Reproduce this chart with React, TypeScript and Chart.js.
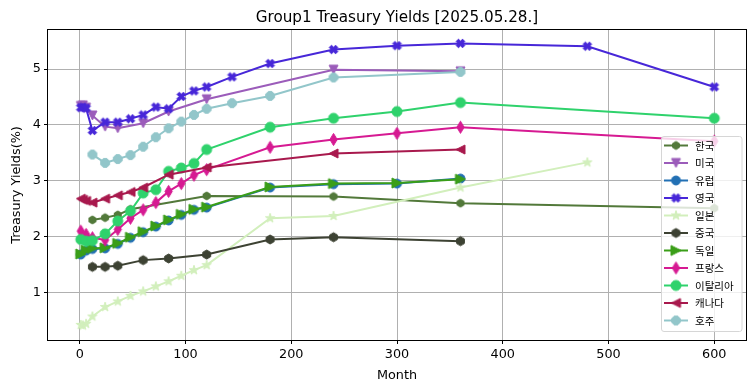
import React, { useEffect, useRef } from 'react';
import { Chart, registerables } from 'chart.js';

Chart.register(...registerables);

const chartTitle = 'Group1 Treasury Yields [2025.05.28.]';
const xTitle = 'Month';
const yTitle = 'Treasury Yields(%)';

const monthTicks = [0, 100, 200, 300, 400, 500, 600];
const yieldTicks = [1, 2, 3, 4, 5];

const koreaMonths = [12, 24, 36, 48, 120, 240, 360, 600];
const koreaYields = [2.30, 2.34, 2.39, 2.49, 2.73, 2.72, 2.60, 2.51];

const usMonths = [1, 3, 6, 12, 24, 36, 60, 84, 120, 240, 360];
const usYields = [4.34, 4.35, 4.31, 4.17, 3.97, 3.94, 4.03, 4.24, 4.46, 4.99, 4.96];

const europeMonths = [1, 6, 12, 24, 36, 48, 60, 72, 84, 96, 108, 120, 180, 240, 300, 360];
const europeYields = [1.68, 1.75, 1.78, 1.79, 1.87, 1.98, 2.08, 2.18, 2.29, 2.39, 2.48, 2.52, 2.88, 2.94, 2.95, 3.04];

const ukMonths = [1, 3, 6, 12, 24, 36, 48, 60, 72, 84, 96, 108, 120, 144, 180, 240, 300, 360, 480, 600];
const ukYields = [4.31, 4.32, 4.30, 3.90, 4.05, 4.05, 4.11, 4.18, 4.32, 4.29, 4.51, 4.61, 4.68, 4.86, 5.10, 5.35, 5.42, 5.46, 5.41, 4.68];

const japanMonths = [1, 3, 6, 12, 24, 36, 48, 60, 72, 84, 96, 108, 120, 180, 240, 360, 480];
const japanYields = [0.42, 0.41, 0.44, 0.57, 0.74, 0.84, 0.94, 1.02, 1.11, 1.20, 1.30, 1.40, 1.49, 2.33, 2.37, 2.88, 3.33];

const chinaMonths = [12, 24, 36, 60, 84, 120, 180, 240, 360];
const chinaYields = [1.46, 1.46, 1.48, 1.58, 1.61, 1.68, 1.95, 1.99, 1.92];

const germanyMonths = [1, 6, 12, 24, 36, 48, 60, 72, 84, 96, 108, 120, 180, 240, 300, 360];
const germanyYields = [1.69, 1.76, 1.79, 1.80, 1.88, 1.99, 2.09, 2.19, 2.30, 2.40, 2.49, 2.53, 2.89, 2.95, 2.96, 3.03];

const franceMonths = [1, 6, 12, 24, 36, 48, 60, 72, 84, 96, 108, 120, 180, 240, 300, 360, 600];
const franceYields = [2.10, 2.04, 1.98, 1.94, 2.13, 2.33, 2.48, 2.61, 2.81, 2.95, 3.10, 3.20, 3.60, 3.74, 3.85, 3.96, 3.71];

const italyMonths = [1, 6, 12, 24, 36, 48, 60, 72, 84, 96, 108, 120, 180, 240, 300, 360, 600];
const italyYields = [1.95, 1.92, 1.93, 2.05, 2.28, 2.46, 2.78, 2.84, 3.17, 3.23, 3.31, 3.56, 3.96, 4.12, 4.24, 4.40, 4.12];

const canadaMonths = [1, 3, 6, 12, 24, 36, 48, 60, 84, 120, 240, 360];
const canadaYields = [2.68, 2.66, 2.64, 2.61, 2.68, 2.74, 2.80, 2.88, 3.11, 3.24, 3.49, 3.56];

const australiaMonths = [12, 24, 36, 48, 60, 72, 84, 96, 108, 120, 144, 180, 240, 360];
const australiaYields = [3.47, 3.32, 3.39, 3.46, 3.61, 3.78, 3.94, 4.06, 4.18, 4.29, 4.39, 4.52, 4.85, 4.95];

type Shape = 'circle' | 'hexagon' | 'octagon' | 'triDown' | 'triRight' | 'triLeft' | 'thinDiamond' | 'xFilled' | 'star';

interface SeriesDef {
  label: string;
  months: number[];
  yields: number[];
  color: string;
  shape: Shape;
  size: number;
}

const series: SeriesDef[] = [
  { label: '한국', months: koreaMonths, yields: koreaYields, color: '#52793a', shape: 'hexagon', size: 8 },
  { label: '미국', months: usMonths, yields: usYields, color: '#9b5cba', shape: 'triDown', size: 9 },
  { label: '유럽', months: europeMonths, yields: europeYields, color: '#2270b4', shape: 'circle', size: 9 },
  { label: '영국', months: ukMonths, yields: ukYields, color: '#4727d8', shape: 'xFilled', size: 9 },
  { label: '일본', months: japanMonths, yields: japanYields, color: '#d2efbc', shape: 'star', size: 10 },
  { label: '중국', months: chinaMonths, yields: chinaYields, color: '#3d4233', shape: 'hexagon', size: 9 },
  { label: '독일', months: germanyMonths, yields: germanyYields, color: '#3a9e18', shape: 'triRight', size: 10 },
  { label: '프랑스', months: franceMonths, yields: franceYields, color: '#d61a92', shape: 'thinDiamond', size: 9 },
  { label: '이탈리아', months: italyMonths, yields: italyYields, color: '#2fd26c', shape: 'circle', size: 10 },
  { label: '캐나다', months: canadaMonths, yields: canadaYields, color: '#a8194d', shape: 'triLeft', size: 9 },
  { label: '호주', months: australiaMonths, yields: australiaYields, color: '#92c6ca', shape: 'octagon', size: 9.5 },
];

function makeMarker(shape: Shape, color: string, size: number): HTMLCanvasElement {
  const r = size / 2;
  const ext = shape === 'thinDiamond' ? r * 1.42 : r;
  const dim = Math.ceil(ext * 2) + 4;
  const c = document.createElement('canvas');
  c.width = dim;
  c.height = dim;
  const ctx = c.getContext('2d')!;
  const cx = dim / 2;
  const cy = dim / 2;
  ctx.fillStyle = color;
  ctx.strokeStyle = color;
  ctx.lineWidth = 1;
  ctx.lineJoin = 'miter';
  ctx.beginPath();
  const poly = (pts: number[][]) => {
    pts.forEach(([x, y], i) => (i ? ctx.lineTo(cx + x, cy + y) : ctx.moveTo(cx + x, cy + y)));
    ctx.closePath();
  };
  const regular = (n: number, start: number, rad: number) => {
    const pts: number[][] = [];
    for (let k = 0; k < n; k++) {
      const a = start + (k * 2 * Math.PI) / n;
      pts.push([rad * Math.cos(a), rad * Math.sin(a)]);
    }
    return pts;
  };
  switch (shape) {
    case 'circle':
      ctx.arc(cx, cy, r, 0, Math.PI * 2);
      break;
    case 'hexagon':
      poly(regular(6, -Math.PI / 2, r));
      break;
    case 'octagon':
      poly(regular(8, Math.PI / 8, r));
      break;
    case 'triDown':
      poly([[0, r], [-r, -r], [r, -r]]);
      break;
    case 'triRight':
      poly([[r, 0], [-r, -r], [-r, r]]);
      break;
    case 'triLeft':
      poly([[-r, 0], [r, -r], [r, r]]);
      break;
    case 'thinDiamond': {
      const h = r * 1.35;
      const w = h * 0.6;
      poly([[0, -h], [w, 0], [0, h], [-w, 0]]);
      break;
    }
    case 'xFilled': {
      const w = r * 0.36;
      const base = [
        [-w, -r], [w, -r], [w, -w], [r, -w], [r, w], [w, w], [w, r], [-w, r], [-w, w], [-r, w], [-r, -w], [-w, -w],
      ];
      const cs = Math.cos(Math.PI / 4);
      const sn = Math.sin(Math.PI / 4);
      poly(base.map(([x, y]) => [x * cs - y * sn, x * sn + y * cs]));
      break;
    }
    case 'star': {
      const pts: number[][] = [];
      for (let k = 0; k < 10; k++) {
        const a = -Math.PI / 2 + (k * Math.PI) / 5;
        const rad = k % 2 === 0 ? r : r * 0.382;
        pts.push([rad * Math.cos(a), rad * Math.sin(a)]);
      }
      poly(pts);
      break;
    }
  }
  ctx.fill();
  ctx.stroke();
  return c;
}

const FONT = "'DejaVu Sans', sans-serif";
const KFONT = "'Noto Sans CJK KR', 'DejaVu Sans', sans-serif";

export default function App() {
  const ref = useRef<HTMLCanvasElement | null>(null);

  useEffect(() => {
    document.body.style.margin = '0';
    const canvas = ref.current!;
    const markers = series.map((s) => makeMarker(s.shape, s.color, s.size));

    const datasets = series.map((s, i) => ({
      label: s.label,
      data: s.months.map((m, j) => ({ x: m, y: s.yields[j] })),
      borderColor: s.color,
      backgroundColor: s.color,
      borderWidth: 2,
      pointStyle: markers[i] as any,
      pointRadius: 5,
      pointHoverRadius: 5,
      tension: 0,
      fill: false,
      order: series.length - i,
    }));

    const decor = {
      id: 'decor',
      afterDraw(chart: any) {
        const ctx = chart.ctx as CanvasRenderingContext2D;
        const a = chart.chartArea;
        ctx.save();
        // frame
        ctx.strokeStyle = '#000';
        ctx.lineWidth = 1;
        ctx.strokeRect(Math.round(a.left) - 0.5, Math.round(a.top) - 0.5, Math.round(a.right - a.left) + 1, Math.round(a.bottom - a.top) + 1);
        // title
        ctx.fillStyle = '#000';
        ctx.textAlign = 'center';
        ctx.textBaseline = 'alphabetic';
        ctx.font = `15.2px ${FONT}`;
        ctx.fillText(chartTitle, (a.left + a.right) / 2, 21.5);
        // x title
        ctx.font = `12.8px ${FONT}`;
        ctx.fillText(xTitle, (a.left + a.right) / 2, 378.5);
        // y title
        ctx.save();
        ctx.translate(19.5, (a.top + a.bottom) / 2);
        ctx.rotate(-Math.PI / 2);
        ctx.fillText(yTitle, 0, 0);
        ctx.restore();

        // legend
        const lx = 661.5, ly = 136.5, lw = 80.5, lh = 195;
        const rad = 2.5;
        ctx.beginPath();
        ctx.moveTo(lx + rad, ly);
        ctx.lineTo(lx + lw - rad, ly);
        ctx.arcTo(lx + lw, ly, lx + lw, ly + rad, rad);
        ctx.lineTo(lx + lw, ly + lh - rad);
        ctx.arcTo(lx + lw, ly + lh, lx + lw - rad, ly + lh, rad);
        ctx.lineTo(lx + rad, ly + lh);
        ctx.arcTo(lx, ly + lh, lx, ly + lh - rad, rad);
        ctx.lineTo(lx, ly + rad);
        ctx.arcTo(lx, ly, lx + rad, ly, rad);
        ctx.closePath();
        ctx.fillStyle = 'rgba(255,255,255,0.8)';
        ctx.fill();
        ctx.strokeStyle = '#d6d6d6';
        ctx.lineWidth = 1;
        ctx.stroke();
        ctx.font = `10.5px ${KFONT}`;
        ctx.textAlign = 'left';
        ctx.textBaseline = 'middle';
        series.forEach((s, i) => {
          const y = 145.5 + i * 17.5;
          ctx.strokeStyle = s.color;
          ctx.lineWidth = 2;
          ctx.beginPath();
          ctx.moveTo(664, y);
          ctx.lineTo(688, y);
          ctx.stroke();
          const m = markers[i];
          ctx.drawImage(m, 676 - m.width / 2, y - m.height / 2);
          ctx.fillStyle = '#000';
          ctx.fillText(s.label, 695, y + 0.5);
        });
        ctx.restore();
      },
    };

    const chart = new Chart(canvas, {
      type: 'line',
      data: { datasets: datasets as any },
      options: {
        animation: false,
        responsive: false,
        maintainAspectRatio: false,
        devicePixelRatio: 1,
        layout: { padding: { top: 30, right: 9, left: 0, bottom: 0 } },
        plugins: {
          legend: { display: false },
          title: { display: false },
          tooltip: { enabled: false },
        },
        scales: {
          x: {
            type: 'linear',
            min: -30,
            max: 630,
            afterBuildTicks: (s: any) => {
              s.ticks = monthTicks.map((v) => ({ value: v }));
            },
            afterFit: (s: any) => {
              s.height = 51;
            },
            grid: { color: '#b0b0b0', lineWidth: 1, tickLength: 4, tickColor: '#000' },
            border: { display: false },
            ticks: { color: '#000', font: { family: FONT, size: 12.8 }, padding: 3, maxRotation: 0, autoSkip: false },
          },
          y: {
            type: 'linear',
            min: 0.15,
            max: 5.7,
            afterBuildTicks: (s: any) => {
              s.ticks = yieldTicks.map((v) => ({ value: v }));
            },
            afterFit: (s: any) => {
              s.width = 48;
            },
            grid: { color: '#b0b0b0', lineWidth: 1, tickLength: 4, tickColor: '#000' },
            border: { display: false },
            ticks: { color: '#000', font: { family: FONT, size: 12.8 }, padding: 3, autoSkip: false },
          },
        },
      },
      plugins: [decor],
    });
    return () => chart.destroy();
  }, []);

  return (
    <div style={{ width: 755, height: 391 }}>
      <canvas ref={ref} width={755} height={391} style={{ width: 755, height: 391, display: 'block' }} />
    </div>
  );
}
